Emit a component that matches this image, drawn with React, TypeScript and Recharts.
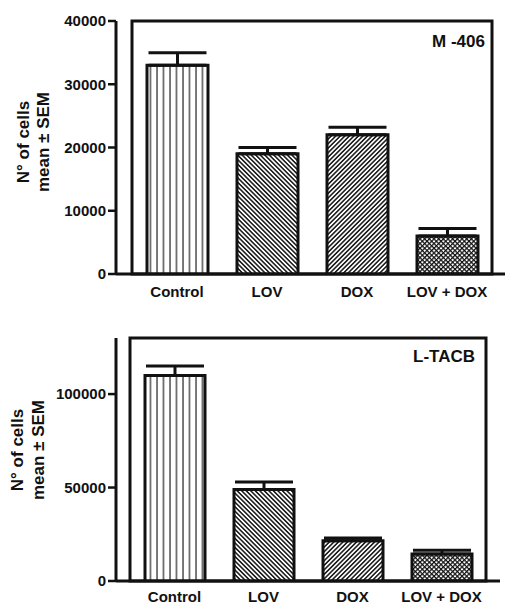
import { BarChart, Bar, XAxis, YAxis, ErrorBar, Cell, ReferenceArea } from 'recharts';

const categories = ['Control', 'LOV', 'DOX', 'LOV + DOX'];

const m406Means = [33000, 19000, 22000, 6000];
const m406Sem = [2000, 1000, 1200, 1200];
const m406Ticks = [0, 10000, 20000, 30000, 40000];
const m406Max = 40000;

const ltacbMeans = [110000, 49000, 21500, 14500];
const ltacbSem = [5000, 4000, 1500, 2000];
const ltacbTicks = [0, 50000, 100000];
const ltacbMax = 130000;

const FONT = '"Liberation Sans", Arial, sans-serif';
const fills = ['url(#vert)', 'url(#back)', 'url(#fwd)', 'url(#cross)'];

function Patterns() {
  return (
    <defs>
      <pattern id="vert" patternUnits="userSpaceOnUse" width={6.5} height={10}>
        <rect width={6.5} height={10} fill="#fff" />
        <line x1={1} y1={0} x2={1} y2={10} stroke="#333" strokeWidth={1.3} />
      </pattern>
      <pattern id="back" patternUnits="userSpaceOnUse" width={3.2} height={3.2} patternTransform="rotate(-45)">
        <rect width={3.2} height={3.2} fill="#fff" />
        <line x1={0.8} y1={0} x2={0.8} y2={3.2} stroke="#111" strokeWidth={1.5} />
      </pattern>
      <pattern id="fwd" patternUnits="userSpaceOnUse" width={3.2} height={3.2} patternTransform="rotate(45)">
        <rect width={3.2} height={3.2} fill="#fff" />
        <line x1={0.8} y1={0} x2={0.8} y2={3.2} stroke="#111" strokeWidth={1.5} />
      </pattern>
      <pattern id="cross" patternUnits="userSpaceOnUse" width={3.3} height={3.3} patternTransform="rotate(45)">
        <rect width={3.3} height={3.3} fill="#fff" />
        <line x1={0.6} y1={0} x2={0.6} y2={3.3} stroke="#111" strokeWidth={1.3} />
        <line x1={0} y1={0.6} x2={3.3} y2={0.6} stroke="#111" strokeWidth={1.3} />
      </pattern>
    </defs>
  );
}

interface PanelProps {
  title: string;
  means: number[];
  sem: number[];
  ticks: number[];
  max: number;
  height: number;
  margin: { top: number; right: number; bottom: number; left: number };
  pad: { left: number; right: number };
  barSize: number;
  titleX: number;
  titleY: number;
  labelX: [number, number];
  labelY: number;
  tickMargin: number;
}

function Panel(p: PanelProps) {
  const data = categories.map((name, i) => ({
    name,
    mean: p.means[i],
    err: [0, p.sem[i]],
  }));
  const axisLine = { stroke: '#111', strokeWidth: 3 };
  const tickStyle = { fill: '#111', fontSize: 15, fontWeight: 700, fontFamily: FONT };
  const labelProps = { textAnchor: 'middle' as const, dominantBaseline: 'central' as const, fontFamily: FONT, fontWeight: 700, fontSize: 17, fill: '#111' };

  return (
    <BarChart width={507} height={p.height} data={data} margin={p.margin}>
      <Patterns />
      <XAxis
        dataKey="name"
        padding={p.pad}
        axisLine={axisLine}
        tickLine={false}
        tickSize={0}
        tickMargin={p.tickMargin}
        height={20}
        tick={tickStyle}
        interval={0}
      />
      <YAxis
        domain={[0, p.max]}
        ticks={p.ticks}
        width={116}
        axisLine={axisLine}
        tickLine={{ stroke: '#111', strokeWidth: 2.5 }}
        tickSize={8}
        tick={tickStyle}
        allowDataOverflow
      />
      {/* frame round the plot area */}
      <ReferenceArea y1={0} y2={p.max} fill="none" stroke="#111" strokeWidth={3} fillOpacity={0} />
      <Bar dataKey="mean" barSize={p.barSize} stroke="#111" strokeWidth={3} isAnimationActive={false}>
        {data.map((d, i) => (
          <Cell key={d.name} fill={fills[i]} />
        ))}
        <ErrorBar dataKey="err" width={29} stroke="#111" strokeWidth={3} direction="y" />
      </Bar>
      <text x={p.titleX} y={p.titleY} textAnchor="end" fontFamily={FONT} fontWeight={700} fontSize={17} fill="#111">
        {p.title}
      </text>
      <text x={p.labelX[0]} y={p.labelY} transform={`rotate(-90, ${p.labelX[0]}, ${p.labelY})`} {...labelProps}>
        N° of cells
      </text>
      <text x={p.labelX[1]} y={p.labelY} transform={`rotate(-90, ${p.labelX[1]}, ${p.labelY})`} {...labelProps}>
        mean ± SEM
      </text>
    </BarChart>
  );
}

export default function App() {
  return (
    <div style={{ position: 'absolute', left: 0, top: 0, width: 507, height: 604, background: '#fff' }}>
      <div style={{ position: 'absolute', left: 0, top: 0 }}>
        <Panel
          title="M -406"
          means={m406Means}
          sem={m406Sem}
          ticks={m406Ticks}
          max={m406Max}
          height={300}
          margin={{ top: 21, right: 2, bottom: 6, left: 0 }}
          pad={{ left: 16, right: 13 }}
          barSize={61}
          titleX={485}
          titleY={47}
          labelX={[23.5, 43.5]}
          labelY={142}
          tickMargin={12}
        />
      </div>
      <div style={{ position: 'absolute', left: 0, top: 300 }}>
        <Panel
          title="L-TACB"
          means={ltacbMeans}
          sem={ltacbSem}
          ticks={ltacbTicks}
          max={ltacbMax}
          height={304}
          margin={{ top: 38, right: 7, bottom: 3, left: 0 }}
          pad={{ left: 14, right: 14 }}
          barSize={60}
          titleX={475}
          titleY={62}
          labelX={[17.5, 38]}
          labelY={150}
          tickMargin={10}
        />
      </div>
    </div>
  );
}
